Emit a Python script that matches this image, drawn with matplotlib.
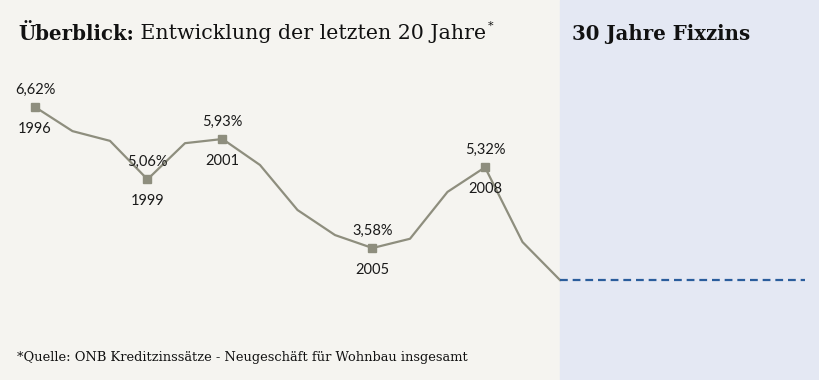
import matplotlib
matplotlib.use("Agg")
import matplotlib.pyplot as plt

# Hypothekarzinsen Wohnbau, 1996-2010 (in %)
years = [1996, 1997, 1998, 1999, 2000, 2001, 2002, 2003, 2004, 2005, 2006, 2007, 2008, 2009, 2010]
rates = [6.62, 6.10, 5.89, 5.06, 5.84, 5.93, 5.37, 4.40, 3.86, 3.58, 3.78, 4.79, 5.32, 3.71, 2.89]
labeled_years = [1996, 1999, 2001, 2005, 2008]
fix_start, fix_end = 2010, 2016.53
fix_rate = 2.89

title_bold = "Überblick:"
title_rest = " Entwicklung der letzten 20 Jahre"
right_title = "30 Jahre Fixzins"
footnote = "*Quelle: ONB Kreditzinssätze - Neugeschäft für Wohnbau insgesamt"

bg_left = "#f5f4f0"
bg_right = "#e4e8f3"
line_col = "#8e8e7e"
dash_col = "#2a5d9c"
serif = ["DejaVu Serif"]
sans = ["Lato", "DejaVu Sans"]

fig = plt.figure(figsize=(8.2, 3.8), dpi=100)
fig.patch.set_facecolor(bg_left)
ax = fig.add_axes([0, 0, 1, 1])
ax.set_facecolor(bg_left)
ax.set_xlim(1995.067, 2016.933)
ax.set_ylim(0.736, 8.926)
ax.axis("off")

ax.axvspan(fix_start, 2016.933, color=bg_right, zorder=0)

ax.plot(years, rates, color=line_col, lw=1.6, zorder=2)
lx = [y for y in years if y in labeled_years]
ly = [r for y, r in zip(years, rates) if y in labeled_years]
ax.plot(lx, ly, ls="none", marker="s", ms=6, color=line_col, zorder=3)
for x, r in zip(lx, ly):
    ax.annotate(f"{r:.2f}%".replace(".", ","), (x, r), xytext=(0, 12.5),
                textcoords="offset points", ha="center", va="center",
                fontsize=10.5, family=sans, color="#1a1a1a")
    ax.annotate(str(x), (x, r), xytext=(0, -15.5), textcoords="offset points",
                ha="center", va="center", fontsize=10.5, family=sans, color="#1a1a1a")

ax.plot([fix_start, fix_end], [fix_rate, fix_rate], color=dash_col, lw=1.6,
        ls=(0, (3.5, 2.2)), zorder=2)

# titles
ty = 1 - 33.5 / 380
t1 = fig.text(18 / 820, ty, title_bold, fontsize=14.2, fontweight="bold",
              family=serif, va="center", ha="left", color="#111111")
fig.canvas.draw()
bb = t1.get_window_extent()
t2 = fig.text(bb.x1 / 820, ty, title_rest, fontsize=14.8, family=serif,
              va="center", ha="left", color="#111111")
fig.canvas.draw()
bb2 = t2.get_window_extent()
fig.text(bb2.x1 / 820 + 0.002, ty + 0.02, "*", fontsize=8, family=serif,
         va="center", ha="left", color="#111111")
fig.text(572 / 820, ty, right_title, fontsize=14.2, fontweight="bold",
         family=serif, va="center", ha="left", color="#111111")
fig.text(17 / 820, 1 - 357 / 380, footnote, fontsize=9.4, family=serif,
         va="center", ha="left", color="#111111")

fig.savefig("out.png", dpi=100, facecolor=fig.get_facecolor())
